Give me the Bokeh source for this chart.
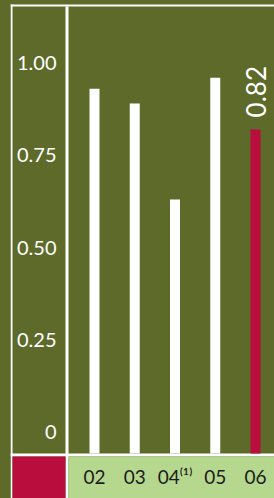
import numpy as np
from bokeh.plotting import figure
from bokeh.models import Range1d, FixedTicker, BoxAnnotation, GlobalInlineStyleSheet
from bokeh.core.properties import value
from bokeh.embed import file_html
from bokeh.resources import INLINE

# ---- data ----
years = ["02", "03", "04⁽¹⁾", "05", "06"]
ratios = [0.93, 0.89, 0.63, 0.96, 0.82]
bar_colors = ["#ffffff", "#ffffff", "#ffffff", "#ffffff", "#b80d3d"]
y_ticks = [0, 0.25, 0.5, 0.75, 1.0]
y_tick_labels = ["0", "0.25", "0.50", "0.75", "1.00"]

# ---- styles / layout ----
OLIVE = "#5e6a2a"
CRIMSON = "#b80d3d"
GREEN = "#b5d88e"
FONT = "Lato"

W, H = 274, 498
FRAME_LEFT = 10                 # px, frame spans the rest of the figure
PX_X, PX_Y = 40.25, 369.0       # px per data unit
X_START = -(94 - FRAME_LEFT) / PX_X
X_END = X_START + (W - FRAME_LEFT) / PX_X
Y_END = 431.5 / PX_Y
Y_START = Y_END - H / PX_Y
BAR_BASE = Y_END - 453 / PX_Y


def dx(px):
    return X_START + (px - FRAME_LEFT) / PX_X


def dy(py):
    return Y_END - py / PX_Y


p = figure(width=W, height=H, output_backend="svg", toolbar_location=None,
           x_range=Range1d(X_START, X_END), y_range=Range1d(Y_START, Y_END),
           min_border_left=FRAME_LEFT, min_border_right=0, min_border_top=0,
           min_border_bottom=0)
p.background_fill_color = OLIVE
p.border_fill_color = OLIVE
p.outline_line_color = None
p.grid.visible = False
p.stylesheets = [GlobalInlineStyleSheet(css="body { background-color: %s; }" % OLIVE)]


def band(l, r, t, b, color):
    p.add_layout(BoxAnnotation(left=dx(l), right=dx(r), top=dy(t), bottom=dy(b),
                               fill_color=color, fill_alpha=1.0, line_color=None,
                               level="underlay"))


band(10, W, 4, 6, "white")        # top rule
band(10, 12, 4, H, "white")       # left rule
band(65, 68, 6, H, "white")       # column separator
band(10, W, 453, 456, "white")    # bottom rule
band(12, 65, 456, H, CRIMSON)     # corner box
band(68, W, 456, H, GREEN)        # category strip

x_index = list(range(len(years)))
p.vbar(x=x_index, top=ratios, bottom=BAR_BASE, width=10 / PX_X,
       color=bar_colors, line_color=None)

p.text(x=[x_index[-1]], y=[ratios[-1]], text=[f"{ratios[-1]:.2f}"],
       angle=np.pi / 2, text_align="left", text_baseline="middle",
       text_color="white", text_font=value(FONT), text_font_size="26px",
       y_offset=-12)

# y axis: labels drawn into the left column of the frame
ya = p.yaxis[0]
ya.ticker = FixedTicker(ticks=y_ticks)
ya.major_label_overrides = dict(zip(y_ticks, y_tick_labels))
ya.major_label_text_color = "white"
ya.major_label_text_font = FONT
ya.major_label_text_font_size = "20px"
ya.major_label_standoff = -(56 - FRAME_LEFT)
ya.major_tick_out = 0
ya.major_tick_in = 0
ya.minor_tick_out = 0
ya.minor_tick_in = 0
ya.axis_line_color = None

# x axis: labels drawn into the green strip
xa = p.xaxis[0]
xa.ticker = FixedTicker(ticks=x_index)
xa.major_label_overrides = dict(zip(x_index, years))
xa.major_label_text_color = "#1c1c1c"
xa.major_label_text_font = FONT
xa.major_label_text_font_size = "19px"
xa.major_label_standoff = -(H - 464)
xa.major_tick_out = 0
xa.major_tick_in = 0
xa.minor_tick_out = 0
xa.minor_tick_in = 0
xa.axis_line_color = None

open("out.html", "w").write(file_html(p, INLINE))
